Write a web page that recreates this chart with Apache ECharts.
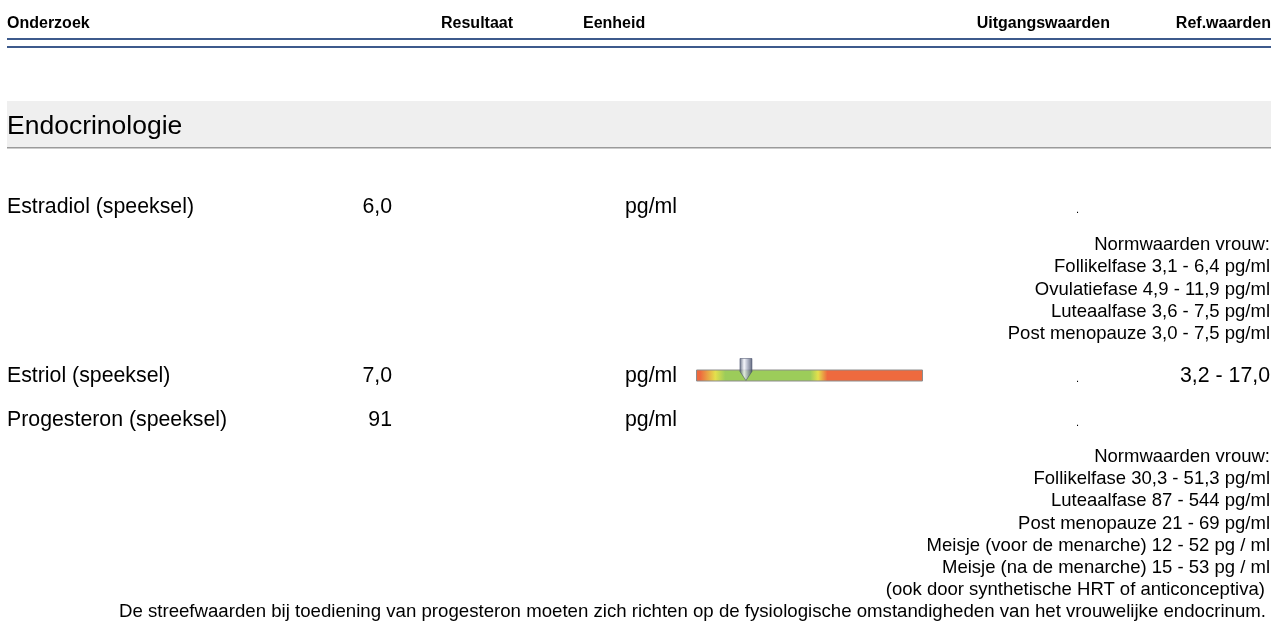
<!DOCTYPE html>
<html><head><meta charset="utf-8">
<script src="https://cdn.jsdelivr.net/npm/echarts@6/dist/echarts.min.js"></script>
<style>html,body{margin:0;padding:0;background:#fff}#c{width:1279px;height:639px}</style>
</head><body><div id="c"></div>
<script>
const headers = ["Onderzoek", "Resultaat", "Eenheid", "Uitgangswaarden", "Ref.waarden"];
const section = "Endocrinologie";
const tests = ["Estradiol (speeksel)", "Estriol (speeksel)", "Progesteron (speeksel)"];
const results = ["6,0", "7,0", "91"];
const units = ["pg/ml", "pg/ml", "pg/ml"];
const refText = ["", "3,2 - 17,0", ""];
const estradiolNorms = ["Normwaarden vrouw:", "Follikelfase 3,1 - 6,4 pg/ml", "Ovulatiefase 4,9 - 11,9 pg/ml", "Luteaalfase 3,6 - 7,5 pg/ml", "Post menopauze 3,0 - 7,5 pg/ml"];
const progesteronNorms = ["Normwaarden vrouw:", "Follikelfase 30,3 - 51,3 pg/ml", "Luteaalfase 87 - 544 pg/ml", "Post menopauze 21 - 69 pg/ml", "Meisje (voor de menarche) 12 - 52 pg / ml", "Meisje (na de menarche) 15 - 53 pg / ml", "(ook door synthetische HRT of anticonceptiva) "];
const footnote = "De streefwaarden bij toediening van progesteron moeten zich richten op de fysiologische omstandigheden van het vrouwelijke endocrinum.";
// Estriol gauge
const estriolValue = 7.0;
const estriolRefLow = 3.2;
const estriolRefHigh = 17.0;
const gaugeMax = 31.8;

const FONT = "'Liberation Sans', Arial, Helvetica, sans-serif";
const chart = echarts.init(document.getElementById('c'), null, {renderer: 'canvas'});

function txt(x, y, s, size, align, weight) {
  return {type: 'text', x: x, y: y, silent: true,
    style: {text: s, font: (weight || 'normal') + ' ' + size + 'px ' + FONT, fill: '#000',
      textAlign: align || 'left', textVerticalAlign: 'middle'}};
}
const g = [];
// header
const hx = [7, 441, 583, 1110, 1271];
const ha = ['left', 'left', 'left', 'right', 'right'];
headers.forEach((h, i) => g.push(txt(hx[i], 24, h, 16, ha[i], 'bold')));
g.push({type: 'rect', shape: {x: 7, y: 38, width: 1264, height: 2}, style: {fill: '#3d5a8c'}});
g.push({type: 'rect', shape: {x: 7, y: 46, width: 1264, height: 2}, style: {fill: '#3d5a8c'}});
// section band
g.push({type: 'rect', shape: {x: 7, y: 101, width: 1264, height: 46}, style: {fill: '#efefef'}});
g.push({type: 'rect', shape: {x: 7, y: 147, width: 1264, height: 1.5}, style: {fill: '#9a9a9a'}});
g.push(txt(7, 127, section, 26.5, 'left'));
// rows
const rowY = [207, 376, 420];
tests.forEach((t, i) => {
  g.push(txt(7, rowY[i], t, 21.3, 'left'));
  g.push(txt(392, rowY[i], results[i], 21.3, 'right'));
  g.push(txt(625, rowY[i], units[i], 21.3, 'left'));
  g.push(txt(1079, rowY[i] + 3, '.', 11, 'right'));
  if (refText[i]) g.push(txt(1270, rowY[i], refText[i], 21.3, 'right'));
});
estradiolNorms.forEach((s, i) => g.push(txt(1270, 245 + i * 22.3, s, 18.5, 'right')));
progesteronNorms.forEach((s, i) => g.push(txt(1270, 457 + i * 22.2, s, 18.5, 'right')));
g.push(txt(1266, 612, footnote, 18.65, 'right'));

const o = v => v / gaugeMax;
const gradient = new echarts.graphic.LinearGradient(0, 0, 1, 0, [
  {offset: 0, color: '#ee6a3e'},
  {offset: o(estriolRefLow - 2.6), color: '#ee6a3e'},
  {offset: o(estriolRefLow - 0.5), color: '#e4e04c'},
  {offset: o(estriolRefLow + 0.9), color: '#9ccc5a'},
  {offset: o(estriolRefHigh - 1.0), color: '#9ccc5a'},
  {offset: o(estriolRefHigh + 0.1), color: '#e4e04c'},
  {offset: o(estriolRefHigh + 1.4), color: '#ee6a3e'},
  {offset: 1, color: '#ee6a3e'}
]);
const pinGrad = new echarts.graphic.LinearGradient(0, 0, 1, 0, [
  {offset: 0, color: '#4b5670'},
  {offset: 0.35, color: '#f2f4fa'},
  {offset: 0.6, color: '#aab0c4'},
  {offset: 1, color: '#3c4560'}
]);

chart.setOption({
  animation: false,
  grid: {left: 696, top: 369, width: 227, height: 13, containLabel: false},
  xAxis: {type: 'value', min: 0, max: gaugeMax, show: false},
  yAxis: {type: 'category', data: ['Estriol'], show: false},
  graphic: g,
  series: [
    {type: 'bar', data: [gaugeMax], barWidth: 12, silent: true,
      itemStyle: {color: gradient, borderColor: '#8c8c8c', borderWidth: 1}},
    {type: 'scatter', data: [[estriolValue, 'Estriol']], silent: true,
      symbol: 'path://M0,0 L10,0 L10,13 L5,22 L0,13 Z', symbolSize: [12, 22], symbolOffset: [0, -6],
      itemStyle: {color: pinGrad, borderColor: '#3c4560', borderWidth: 0.6}, z: 5}
  ]
});
</script></body></html>
